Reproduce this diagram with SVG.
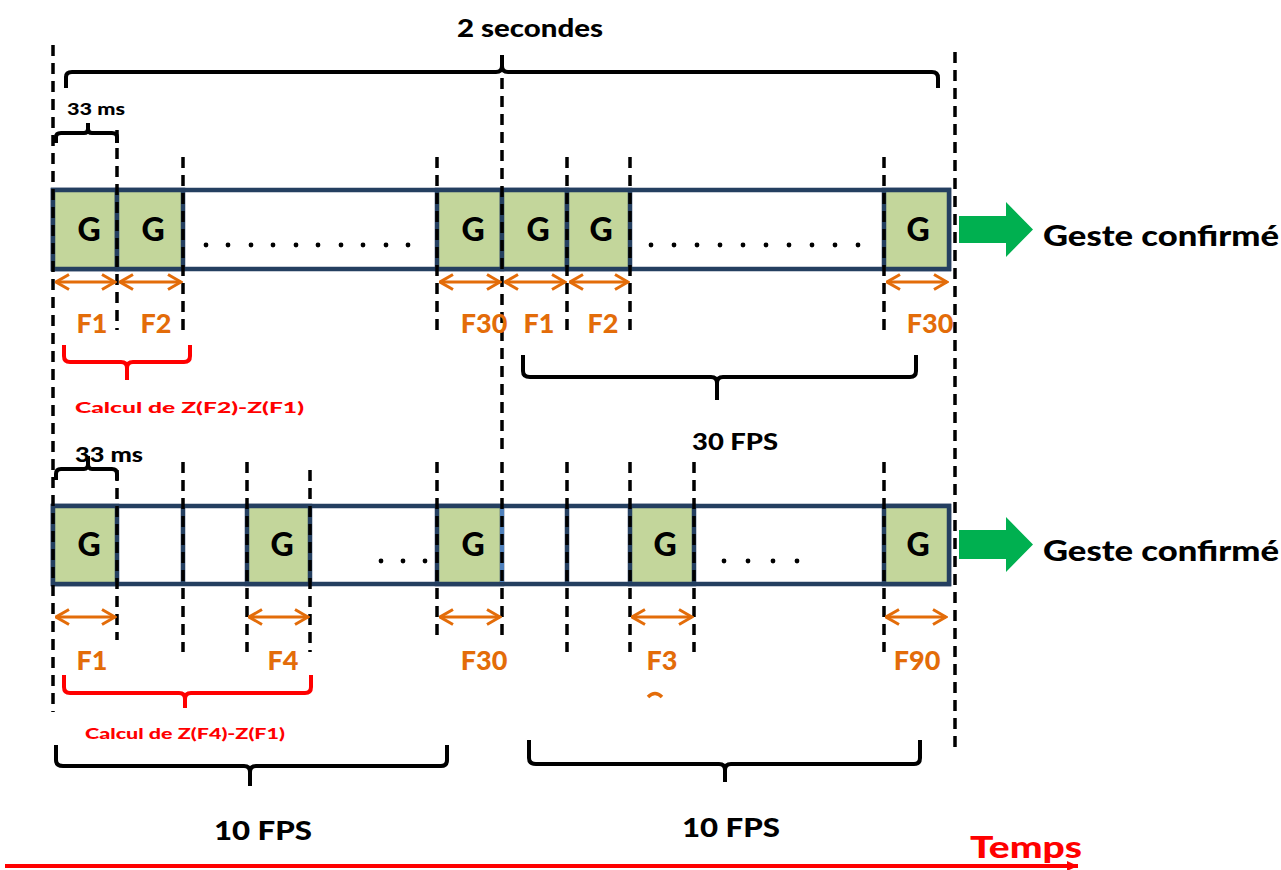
<svg xmlns="http://www.w3.org/2000/svg" width="1281" height="870" viewBox="0 0 1281 870">
<defs>
<marker id="oh" viewBox="0 0 16 18" refX="14.5" refY="9" markerWidth="16" markerHeight="18" markerUnits="userSpaceOnUse" orient="auto-start-reverse">
<path d="M1.5,1.5 L14.5,9 L1.5,16.5" fill="none" stroke="#E36C09" stroke-width="3"/>
</marker>
<marker id="rh" viewBox="0 0 12 12" refX="11" refY="6" markerWidth="12" markerHeight="12" markerUnits="userSpaceOnUse" orient="auto">
<path d="M0,1 L11,6 L0,11 Z" fill="#FF0000"/>
</marker>
</defs>
<style>
.t{font-family:Lato,"Open Sans","Liberation Sans",sans-serif;font-weight:900;}
.blk{fill:#000;}
.org{fill:#E36C09;font-size:27px;}
.red{fill:#FF0000;font-size:15px;}
.g{font-size:32px;fill:#000;text-anchor:middle;}
.dash{stroke:#000;stroke-width:3.5;stroke-dasharray:11 7;fill:none;}
.bar{fill:#fff;stroke:#243F60;stroke-width:4.5;}
.cell{fill:#C3D69B;stroke:#243F60;stroke-width:4.5;}
.div{stroke:#243F60;stroke-width:4.5;}
.oa{stroke:#E36C09;stroke-width:3;marker-start:url(#oh);marker-end:url(#oh);}
.br{fill:none;stroke:#000;stroke-width:4;stroke-linejoin:round;}
.rb{fill:none;stroke:#FF0000;stroke-width:4;stroke-linejoin:round;}
.dot{fill:#000;}
.garr{fill:#00B050;}
</style>
<rect width="1281" height="870" fill="#fff"/>

<g id="row1">
<rect class="bar" x="53" y="190" width="896" height="79"/>
<rect class="cell" x="53" y="190" width="64" height="79"/>
<rect class="cell" x="117" y="190" width="66" height="79"/>
<rect class="cell" x="437" y="190" width="65" height="79"/>
<rect class="cell" x="502" y="190" width="65" height="79"/>
<rect class="cell" x="567" y="190" width="63" height="79"/>
<rect class="cell" x="884" y="190" width="65" height="79"/>
<text class="t g" x="89" y="241">G</text>
<text class="t g" x="153" y="241">G</text>
<text class="t g" x="473" y="241">G</text>
<text class="t g" x="538" y="241">G</text>
<text class="t g" x="601" y="241">G</text>
<text class="t g" x="918" y="241">G</text>
<g class="dot">
<circle cx="206" cy="245" r="2.4"/><circle cx="228" cy="245" r="2.4"/><circle cx="251" cy="245" r="2.4"/><circle cx="273" cy="245" r="2.4"/><circle cx="296" cy="245" r="2.4"/><circle cx="318" cy="245" r="2.4"/><circle cx="341" cy="245" r="2.4"/><circle cx="363" cy="245" r="2.4"/><circle cx="386" cy="245" r="2.4"/><circle cx="408" cy="245" r="2.4"/>
<circle cx="651" cy="245" r="2.4"/><circle cx="674" cy="245" r="2.4"/><circle cx="697" cy="245" r="2.4"/><circle cx="720" cy="245" r="2.4"/><circle cx="743" cy="245" r="2.4"/><circle cx="766" cy="245" r="2.4"/><circle cx="789" cy="245" r="2.4"/><circle cx="812" cy="245" r="2.4"/><circle cx="835" cy="245" r="2.4"/><circle cx="858" cy="245" r="2.4"/>
</g>
</g>

<g id="row2">
<rect class="bar" x="53" y="506" width="896" height="78"/>
<rect class="cell" x="53" y="506" width="64" height="78"/>
<rect class="cell" x="247" y="506" width="63" height="78"/>
<rect class="cell" x="437" y="506" width="65" height="78"/>
<rect class="cell" x="630" y="506" width="64" height="78"/>
<rect class="cell" x="884" y="506" width="65" height="78"/>
<line class="div" x1="183" y1="506" x2="183" y2="584"/>
<line class="div" x1="567" y1="506" x2="567" y2="584"/>
<line x1="502" y1="508" x2="502" y2="582" stroke="#4F81BD" stroke-width="4"/>
<text class="t g" x="89" y="556">G</text>
<text class="t g" x="282" y="556">G</text>
<text class="t g" x="473" y="556">G</text>
<text class="t g" x="665" y="556">G</text>
<text class="t g" x="918" y="556">G</text>
<g class="dot">
<circle cx="381" cy="561" r="2.4"/><circle cx="403" cy="561" r="2.4"/><circle cx="425" cy="561" r="2.4"/>
<circle cx="724" cy="561" r="2.4"/><circle cx="748" cy="561" r="2.4"/><circle cx="773" cy="561" r="2.4"/><circle cx="797" cy="561" r="2.4"/>
</g>
</g>

<g id="connectors">
<line class="dash" x1="53" y1="45" x2="53" y2="712"/>
<line class="dash" x1="955" y1="52" x2="955" y2="748"/>
<line class="dash" x1="502" y1="78" x2="502" y2="452"/>
<line class="dash" x1="117" y1="130" x2="117" y2="330"/>
<line class="dash" x1="183" y1="157" x2="183" y2="330"/>
<line class="dash" x1="437" y1="157" x2="437" y2="330"/>
<line class="dash" x1="567" y1="157" x2="567" y2="330"/>
<line class="dash" x1="630" y1="157" x2="630" y2="330"/>
<line class="dash" x1="884" y1="157" x2="884" y2="330"/>
<line class="dash" x1="117" y1="470" x2="117" y2="640"/>
<line class="dash" x1="183" y1="462" x2="183" y2="652"/>
<line class="dash" x1="247" y1="462" x2="247" y2="652"/>
<line class="dash" x1="310" y1="470" x2="310" y2="652"/>
<line class="dash" x1="437" y1="462" x2="437" y2="640"/>
<line class="dash" x1="502" y1="462" x2="502" y2="640"/>
<line class="dash" x1="567" y1="462" x2="567" y2="652"/>
<line class="dash" x1="630" y1="462" x2="630" y2="652"/>
<line class="dash" x1="694" y1="462" x2="694" y2="652"/>
<line class="dash" x1="884" y1="462" x2="884" y2="652"/>

<line class="oa" x1="56" y1="282" x2="115" y2="282"/>
<line class="oa" x1="120" y1="282" x2="181" y2="282"/>
<line class="oa" x1="440" y1="282" x2="500" y2="282"/>
<line class="oa" x1="505" y1="282" x2="565" y2="282"/>
<line class="oa" x1="570" y1="282" x2="628" y2="282"/>
<line class="oa" x1="887" y1="282" x2="947" y2="282"/>
<line class="oa" x1="56" y1="617" x2="115" y2="617"/>
<line class="oa" x1="249" y1="617" x2="308" y2="617"/>
<line class="oa" x1="440" y1="617" x2="500" y2="617"/>
<line class="oa" x1="632" y1="617" x2="692" y2="617"/>
<line class="oa" x1="886" y1="617" x2="946" y2="617"/>

<path class="br" d="M66,88 L66,77 Q66,72 72,72 L496,72 Q502,72 502,66 L502,55 M502,66 Q502,72 508,72 L932,72 Q938,72 938,78 L938,88"/>
<path class="br" d="M56,143 L56,137 Q56,133 61,133 L84,133 Q88,133 88,129 L88,123 M88,129 Q88,133 92,133 L112,133 Q117,133 117,137 L117,143"/>
<path class="br" d="M56,480 L56,474 Q56,469 61,469 L84,469 Q88,469 88,464 L88,456 M88,464 Q88,469 92,469 L112,469 Q117,469 117,474 L117,480"/>
<path class="br" d="M523,355 L523,371 Q523,377 530,377 L711,377 Q717,377 717,383 L717,400 M717,383 Q717,377 723,377 L910,377 Q916,377 916,371 L916,355"/>
<path class="br" d="M56,745 L56,760 Q56,766 63,766 L244,766 Q250,766 250,772 L250,786 M250,772 Q250,766 256,766 L441,766 Q447,766 447,760 L447,745"/>
<path class="br" d="M529,740 L529,758 Q529,764 536,764 L719,764 Q725,764 725,770 L725,782 M725,770 Q725,764 731,764 L914,764 Q920,764 920,758 L920,740"/>
<path class="rb" d="M64,345 L64,356 Q64,362 70,362 L121,362 Q127,362 127,368 L127,380 M127,368 Q127,362 133,362 L184,362 Q190,362 190,356 L190,345"/>
<path class="rb" d="M64,675 L64,687 Q64,693 70,693 L179,693 Q185,693 185,699 L185,708 M185,699 Q185,693 191,693 L305,693 Q311,693 311,687 L311,675"/>

<path class="garr" d="M959,216 L1006,216 L1006,202 L1033,229.5 L1006,257 L1006,243 L959,243 Z"/>
<path class="garr" d="M959,530 L1006,530 L1006,517 L1033,544.5 L1006,572 L1006,559 L959,559 Z"/>

<line x1="5" y1="866" x2="1078" y2="866" stroke="#FF0000" stroke-width="4" marker-end="url(#rh)"/>
<path d="M648,697 Q655,690 662,697" fill="none" stroke="#E36C09" stroke-width="3.5"/>
</g>

<g id="labels">
<text class="t blk" x="530" y="37" font-size="24" text-anchor="middle" textLength="146" lengthAdjust="spacingAndGlyphs">2 secondes</text>
<text class="t blk" x="67" y="115" font-size="17" textLength="58" lengthAdjust="spacingAndGlyphs">33 ms</text>
<text class="t blk" x="75" y="462" font-size="21" textLength="68" lengthAdjust="spacingAndGlyphs">33 ms</text>
<text class="t org" x="92" y="333" text-anchor="middle">F1</text>
<text class="t org" x="156" y="333" text-anchor="middle">F2</text>
<text class="t org" x="484" y="333" text-anchor="middle">F30</text>
<text class="t org" x="539" y="333" text-anchor="middle">F1</text>
<text class="t org" x="603" y="333" text-anchor="middle">F2</text>
<text class="t org" x="930" y="333" text-anchor="middle">F30</text>
<text class="t org" x="92" y="670" text-anchor="middle">F1</text>
<text class="t org" x="283" y="670" text-anchor="middle">F4</text>
<text class="t org" x="484" y="670" text-anchor="middle">F30</text>
<text class="t org" x="662" y="670" text-anchor="middle">F3</text>
<text class="t org" x="917" y="670" text-anchor="middle">F90</text>
<text class="t red" x="75" y="413" textLength="229" lengthAdjust="spacingAndGlyphs">Calcul de Z(F2)-Z(F1)</text>
<text class="t red" x="85" y="739" textLength="200" lengthAdjust="spacingAndGlyphs">Calcul de Z(F4)-Z(F1)</text>
<text class="t blk" x="735" y="450" font-size="23" text-anchor="middle" textLength="86" lengthAdjust="spacingAndGlyphs">30 FPS</text>
<text class="t blk" x="263" y="840" font-size="27" text-anchor="middle" textLength="98" lengthAdjust="spacingAndGlyphs">10 FPS</text>
<text class="t blk" x="731" y="837" font-size="27" text-anchor="middle" textLength="98" lengthAdjust="spacingAndGlyphs">10 FPS</text>
<text class="t blk" x="1043" y="246" font-size="28" textLength="236" lengthAdjust="spacingAndGlyphs">Geste confirmé</text>
<text class="t blk" x="1043" y="561" font-size="28" textLength="236" lengthAdjust="spacingAndGlyphs">Geste confirmé</text>
<text class="t" x="970" y="858" font-size="30" fill="#FF0000" textLength="112" lengthAdjust="spacingAndGlyphs">Temps</text>
</g>
</svg>
